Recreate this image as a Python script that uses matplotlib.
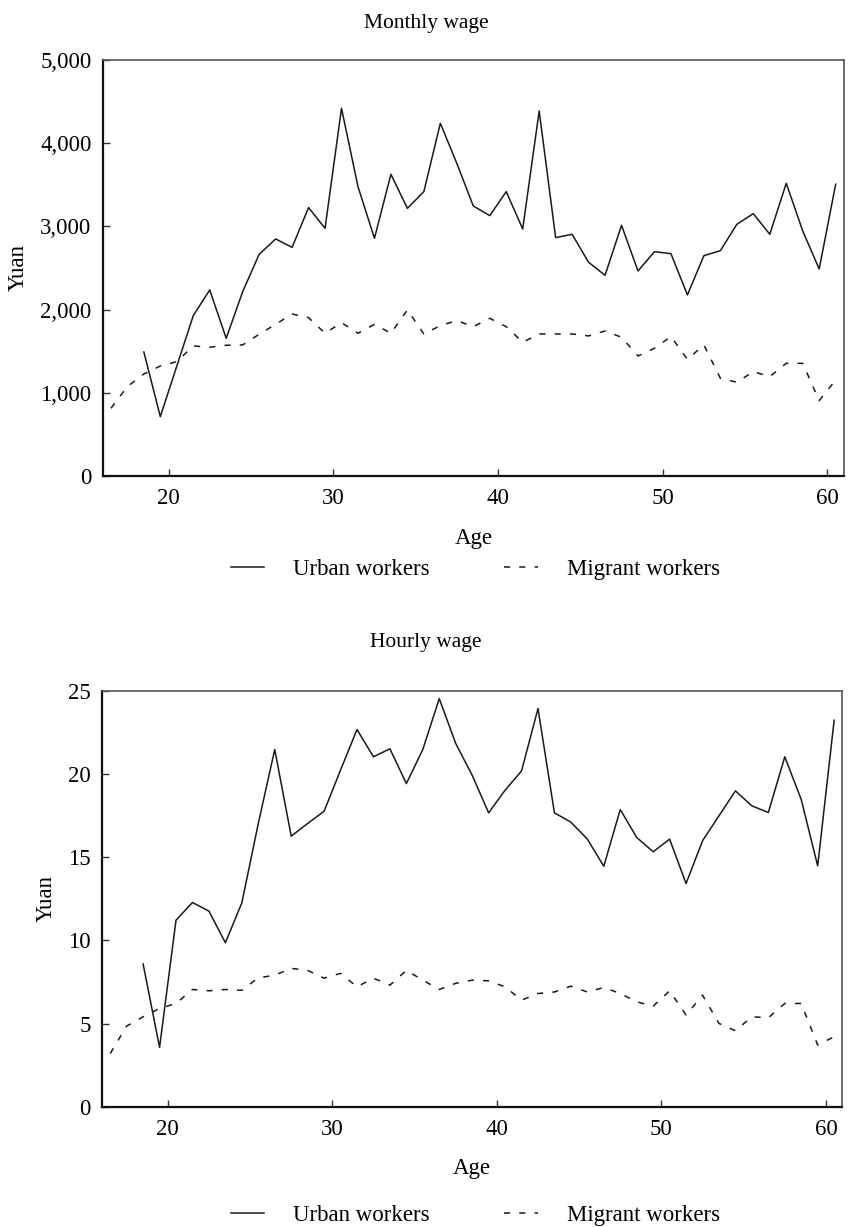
import numpy as np
import matplotlib
matplotlib.use("Agg")
from matplotlib import pyplot as plt
from matplotlib.ticker import FuncFormatter

# ages 16..60, plotted at the middle of each one-year bin
ages = np.arange(16, 61)

monthly_urban = [np.nan, np.nan, 1490, 713, 1320, 1927, 2236, 1655, 2216, 2664,
                 2849, 2748, 3226, 2977, 4419, 3478, 2857, 3626, 3217, 3418,
                 4239, 3758, 3245, 3129, 3418, 2969, 4387, 2865, 2905, 2568,
                 2412, 3013, 2464, 2696, 2672, 2176, 2648, 2708, 3025, 3153,
                 2905, 3518, 2945, 2488, 3506]
monthly_migrant = [813, 1074, 1226, 1322, 1374, 1563, 1547, 1571, 1575, 1703,
                   1823, 1947, 1903, 1715, 1843, 1715, 1823, 1715, 1995, 1707,
                   1807, 1867, 1795, 1895, 1795, 1607, 1707, 1707, 1707, 1683,
                   1743, 1667, 1442, 1535, 1675, 1402, 1575, 1174, 1126, 1254,
                   1194, 1354, 1354, 905, 1154]

hourly_urban = [np.nan, np.nan, 8.58, 3.57, 11.22, 12.28, 11.76, 9.86, 12.26, 17.03,
                21.48, 16.27, 17.03, 17.77, 20.24, 22.68, 21.04, 21.52, 19.43, 21.48,
                24.54, 21.84, 19.93, 17.67, 19.03, 20.19, 23.94, 17.67, 17.11, 16.09,
                14.46, 17.87, 16.19, 15.33, 16.09, 13.42, 15.99, 17.49, 18.99, 18.09,
                17.69, 21.04, 18.47, 14.48, 23.24]
hourly_migrant = [3.2, 4.85, 5.41, 5.91, 6.21, 7.05, 6.97, 7.05, 7.0, 7.75,
                  7.91, 8.32, 8.2, 7.73, 8.02, 7.21, 7.73, 7.31, 8.2, 7.61,
                  7.05, 7.42, 7.61, 7.57, 7.21, 6.41, 6.81, 6.9, 7.25, 6.9,
                  7.17, 6.81, 6.31, 6.05, 6.97, 5.51, 6.71, 5.01, 4.57, 5.41,
                  5.35, 6.21, 6.21, 3.71, 4.21]

plt.rcParams['font.family'] = ['Liberation Serif', 'DejaVu Serif']
plt.rcParams['font.size'] = 16.5

fig = plt.figure(figsize=(8.52, 12.27), dpi=100)
ax1 = fig.add_axes([0.1205, 0.6121, 0.870, 0.339])
ax2 = fig.add_axes([0.1197, 0.0980, 0.869, 0.3389])

panels = [
    (ax1, monthly_urban, monthly_migrant, 5000, 1000, "Monthly wage", 0.981, 0.536, True),
    (ax2, hourly_urban, hourly_migrant, 25, 5, "Hourly wage", 0.476, 0.0095, False),
]

x = ages + 0.5
for ax, urban, migrant, ymax, ystep, title, title_y, leg_y, comma in panels:
    ax.plot(x, urban, color='#1a1a1a', lw=1.1, label='Urban workers')
    ax.plot(x, migrant, color='#1a1a1a', lw=1.1, dashes=(4, 6), label='Migrant workers')
    ax.set_xlim(16, 61)
    ax.set_ylim(0, ymax)
    ax.set_xticks([20, 30, 40, 50, 60])
    ax.set_yticks(np.arange(0, ymax + 1, ystep))
    if comma:
        ax.yaxis.set_major_formatter(FuncFormatter(lambda v, p: f"{int(v):,}"))
    ax.tick_params(direction='in', length=5, width=1, color='#333333')
    ax.tick_params(axis='x', pad=9)
    ax.tick_params(axis='y', pad=8)
    for side in ['left', 'bottom']:
        ax.spines[side].set_linewidth(1.6)
        ax.spines[side].set_color('#111111')
    for side in ['top', 'right']:
        ax.spines[side].set_linewidth(1.2)
        ax.spines[side].set_color('#555555')
    ax.set_xlabel("Age", labelpad=13)
    ax.set_ylabel("Yuan", labelpad=8)
    fig.text(0.5, title_y, title, ha='center', va='center', fontsize=15.5)
    fig.legend(handles=ax.get_lines(), loc='center', bbox_to_anchor=(0.558, leg_y),
               ncol=2, frameon=False, handlelength=1.45, handletextpad=1.27,
               columnspacing=3.25)

fig.savefig("out.png", dpi=100)
